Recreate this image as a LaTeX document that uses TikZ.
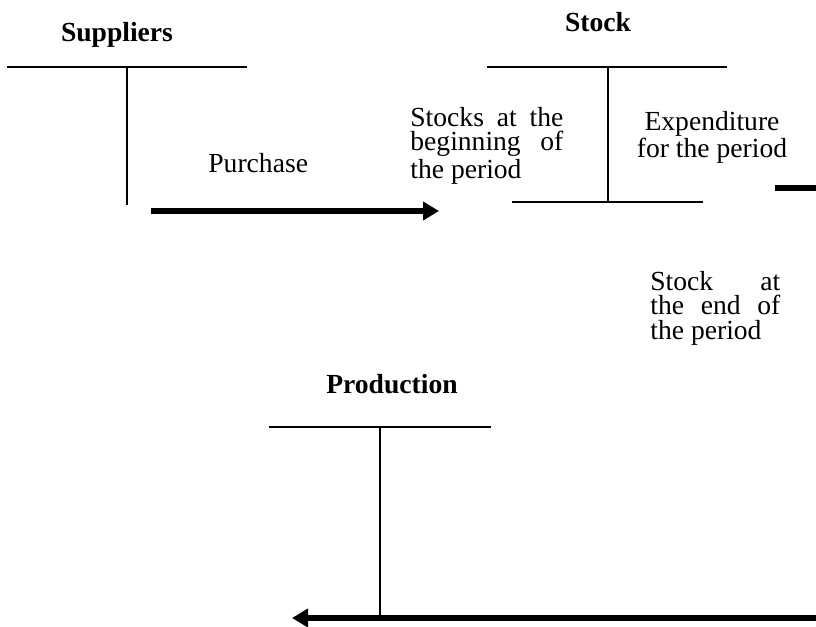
\documentclass[tikz,border=0pt]{standalone}
\usepackage{fontspec}
\setmainfont{Liberation Serif}
\usetikzlibrary{positioning,arrows.meta}

\newcommand{\acctsize}{\fontsize{13.8}{12.2}\selectfont}

\tikzset{
  tline/.style={line width=0.8pt},
  flow/.style={line width=2.6pt},
  flowarrow/.style={flow, -{Triangle[length=8pt,width=9pt]}},
  title/.style={font=\acctsize\bfseries, inner sep=0pt, anchor=base},
  note/.style={inner sep=0pt, align=left, anchor=north west},
}

\begin{document}
\begin{tikzpicture}[x=0.5pt,y=-0.5pt,font=\acctsize]
\useasboundingbox (0,0) rectangle (816,627);

% Suppliers account
\node[title] (suppliers) at (117,41) {Suppliers};
\coordinate (supL) at (7,67);
\coordinate (supR) at (247,67);
\coordinate (supB) at (127,205);
\draw[tline] (supL) -- (supR);
\draw[tline] (supB |- supL) -- (supB);

% Stock account
\node[title] (stock) at (598,31) {Stock};
\coordinate (stkL) at (487,67);
\coordinate (stkR) at (727,67);
\coordinate (stkBL) at (512,202);
\coordinate (stkBR) at (703,202);
\coordinate (stkB) at (608,202);
\draw[tline] (stkL) -- (stkR);
\draw[tline] (stkB |- stkL) -- (stkB);
\draw[tline] (stkBL) -- (stkBR);

% Production account
\node[title] (production) at (392,393) {Production};
\coordinate (prdL) at (269,427);
\coordinate (prdR) at (491,427);
\coordinate (prdB) at (380,618);
\draw[tline] (prdL) -- (prdR);
\draw[tline] (prdB |- prdL) -- (prdB);

% texts
\node[inner sep=0pt, anchor=base west] (purchase) at (208,172) {Purchase};
\node[note] (begin) at (410,107) {%
  \makebox[76.5pt][s]{Stocks at the}\\
  \makebox[76.5pt][s]{beginning of}\\
  \makebox[76.5pt][l]{the period}};
\node[note, align=center, anchor=north] (expense) at (712,111) {Expenditure\\for the period};
\node[note] (endstock) at (650,271) {%
  \makebox[65pt][s]{Stock at}\\
  \makebox[65pt][s]{the end of}\\
  \makebox[65pt][l]{the period}};

% flows
\coordinate (buyA) at (151,211);
\coordinate (buyB) at (439,211);
\draw[flowarrow] (buyA) -- (buyB);
\coordinate (useA) at (775,188);
\coordinate (useB) at (816,188);
\draw[flow] (useA) -- (useB);
\coordinate (prodA) at (816,618);
\coordinate (prodB) at (292,618);
\draw[flowarrow] (prodA) -- (prodB);

\end{tikzpicture}
\end{document}
